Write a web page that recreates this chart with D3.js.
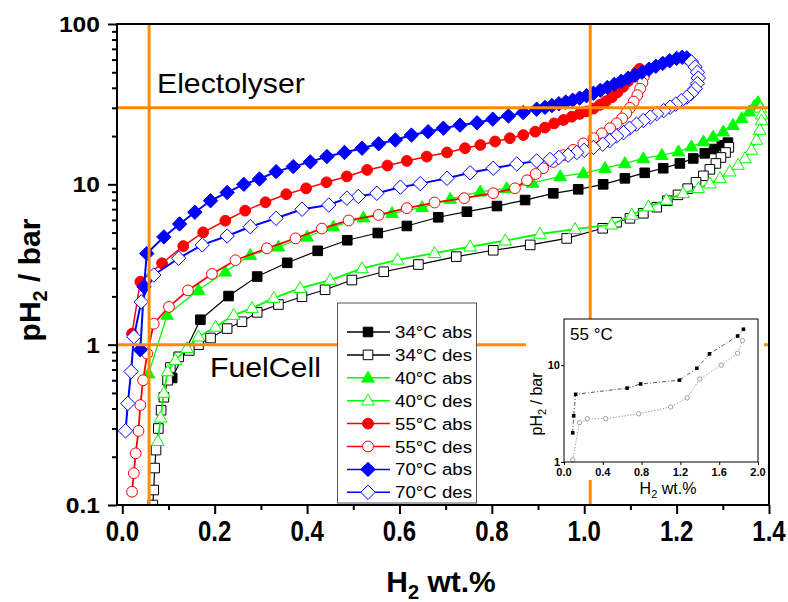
<!DOCTYPE html>
<html><head><meta charset="utf-8">
<script src="https://cdn.jsdelivr.net/npm/d3@7"></script>
<style>
html,body{margin:0;padding:0;background:#fff;}
svg{display:block;}
text{font-family:"Liberation Sans",Arial,Helvetica,sans-serif;fill:#000;}
</style></head><body>
<svg id="chart" width="788" height="602"></svg>
<script>
// ---------------- DATA ----------------
const abs34 = [[0.108,0.62],[0.169,1.43],[0.230,2.01],[0.292,2.66],[0.357,3.24],[0.423,3.85],[0.487,4.48],[0.553,4.97],[0.616,5.5],[0.684,6.23],[0.746,6.75],[0.811,7.32],[0.872,7.98],[0.933,8.79],[0.987,9.31],[1.041,10.0],[1.088,10.9],[1.131,11.8],[1.171,12.6],[1.207,13.5],[1.236,14.5],[1.261,15.6],[1.281,16.6],[1.298,17.5],[1.311,18.2]];
const des34 = [[1.313,17.0],[1.306,15.8],[1.296,14.7],[1.285,13.5],[1.272,12.4],[1.258,11.3],[1.242,10.3],[1.224,9.4],[1.203,8.6],[1.180,7.9],[1.157,7.2],[1.128,6.6],[1.099,6.14],[1.070,5.8],[1.040,5.32],[0.962,4.6],[0.883,4.19],[0.803,3.88],[0.723,3.54],[0.641,3.16],[0.566,2.85],[0.497,2.53],[0.439,2.2],[0.389,1.99],[0.338,1.78],[0.292,1.59],[0.259,1.39],[0.227,1.26],[0.191,1.1],[0.165,1.0],[0.145,0.92],[0.122,0.84],[0.104,0.72],[0.098,0.6],[0.090,0.47],[0.084,0.39],[0.078,0.30],[0.073,0.22],[0.070,0.17],[0.068,0.124],[0.066,0.10]];
const abs40 = [[0.057,0.66],[0.097,1.53],[0.165,2.19],[0.223,2.85],[0.277,3.62],[0.338,4.08],[0.400,4.71],[0.457,5.45],[0.522,6.2],[0.584,6.6],[0.649,7.19],[0.710,8.1],[0.775,9.0],[0.832,9.45],[0.888,10.2],[0.948,11.2],[0.998,11.7],[1.045,12.6],[1.088,13.5],[1.128,14.5],[1.168,15.2],[1.204,16.0],[1.232,17.2],[1.258,18.5],[1.279,19.8],[1.301,21.3],[1.322,23.4],[1.341,25.8],[1.357,28.4],[1.368,30.8],[1.376,32.5]];
const des40 = [[1.381,30.0],[1.384,27.2],[1.384,25.0],[1.380,21.8],[1.373,18.9],[1.362,16.4],[1.348,14.5],[1.333,13.2],[1.315,12.0],[1.294,10.9],[1.272,10.1],[1.247,9.45],[1.214,8.79],[1.178,7.98],[1.139,7.26],[1.103,6.44],[1.059,5.6],[0.980,5.25],[0.904,4.9],[0.829,4.45],[0.753,4.08],[0.676,3.72],[0.596,3.38],[0.519,2.99],[0.450,2.53],[0.385,2.25],[0.328,1.95],[0.281,1.69],[0.241,1.53],[0.202,1.29],[0.165,1.12],[0.140,0.95],[0.115,0.80],[0.098,0.68],[0.090,0.50],[0.083,0.35],[0.077,0.25]];
const abs55 = [[0.021,1.17],[0.039,2.47],[0.086,3.22],[0.132,4.12],[0.175,5.02],[0.223,5.93],[0.266,6.85],[0.310,7.73],[0.355,8.67],[0.398,9.44],[0.442,10.3],[0.486,11.2],[0.530,12.3],[0.574,13.1],[0.616,14.0],[0.659,14.9],[0.703,15.8],[0.742,16.8],[0.775,17.6],[0.807,18.5],[0.839,19.4],[0.868,20.3],[0.894,21.3],[0.915,22.6],[0.935,24.0],[0.955,25.2],[0.973,26.4],[0.990,27.5],[1.005,28.5],[1.020,29.7],[1.034,31.3],[1.047,33.0],[1.060,35.0],[1.072,37.5],[1.084,40.5],[1.095,44.0],[1.105,47.0],[1.113,50.0],[1.120,52.5]];
const des55 = [[1.126,51.0],[1.129,46.9],[1.126,43.0],[1.121,39.5],[1.115,36.0],[1.107,32.8],[1.099,30.0],[1.091,27.8],[1.082,25.8],[1.070,24.0],[1.056,22.4],[1.038,20.8],[1.020,19.4],[0.998,18.0],[0.976,16.4],[0.955,15.2],[0.933,13.8],[0.911,12.6],[0.895,11.6],[0.876,10.6],[0.850,9.45],[0.803,8.8],[0.740,8.2],[0.676,7.7],[0.616,7.1],[0.555,6.44],[0.490,5.95],[0.432,5.3],[0.375,4.6],[0.313,3.99],[0.245,3.36],[0.194,2.76],[0.142,2.18],[0.101,1.72],[0.068,1.35],[0.054,0.88],[0.045,0.6],[0.039,0.42],[0.035,0.29],[0.029,0.21],[0.025,0.158],[0.021,0.121]];
const abs70 = [[0.039,0.93],[0.047,2.3],[0.053,3.7],[0.090,4.7],[0.124,5.66],[0.157,6.7],[0.191,7.9],[0.227,8.9],[0.263,10.0],[0.297,10.8],[0.333,12.0],[0.370,12.9],[0.407,13.8],[0.443,14.9],[0.481,15.8],[0.519,16.8],[0.555,17.9],[0.591,18.9],[0.626,20.3],[0.662,21.3],[0.695,22.4],[0.731,23.4],[0.768,24.2],[0.802,25.5],[0.836,26.7],[0.868,28.0],[0.897,29.4],[0.915,30.2],[0.930,31.0],[0.945,31.8],[0.960,32.6],[0.975,33.5],[0.990,34.5],[1.005,35.7],[1.020,37.0],[1.035,38.6],[1.050,40.2],[1.065,42.0],[1.080,43.9],[1.095,45.9],[1.110,47.9],[1.125,50.0],[1.140,52.2],[1.155,54.5],[1.170,56.8],[1.185,59.0],[1.200,61.0],[1.212,62.0],[1.222,61.5]];
const des70 = [[1.232,58.0],[1.240,54.0],[1.245,50.0],[1.247,46.0],[1.245,42.5],[1.240,39.5],[1.232,37.0],[1.222,35.0],[1.210,33.2],[1.198,31.6],[1.186,30.3],[1.172,28.8],[1.157,27.6],[1.143,26.3],[1.128,25.0],[1.113,23.7],[1.098,22.4],[1.085,21.0],[1.070,20.0],[1.055,18.7],[1.040,17.8],[1.020,17.0],[1.000,16.3],[0.984,15.8],[0.965,15.2],[0.945,14.7],[0.926,14.3],[0.897,14.0],[0.854,13.4],[0.803,12.6],[0.753,11.8],[0.703,10.9],[0.645,10.1],[0.602,9.6],[0.551,8.8],[0.511,8.4],[0.486,8.2],[0.447,7.43],[0.389,6.99],[0.333,6.14],[0.277,5.44],[0.227,4.76],[0.173,4.19],[0.122,3.46],[0.068,2.72],[0.041,1.85],[0.025,1.12],[0.019,0.68],[0.012,0.43],[0.007,0.29]];

const insetAbs = [[0.09,2.0],[0.10,3.0],[0.12,5.0],[0.65,5.8],[0.79,6.4],[1.19,7.0],[1.37,9.3],[1.50,13.1],[1.79,20.0],[1.85,23.5]];
const insetDes = [[0.09,1.05],[0.16,2.55],[0.24,2.8],[0.43,2.8],[0.77,3.15],[1.10,3.7],[1.27,4.6],[1.40,7.2],[1.62,10.0],[1.79,13.3],[1.84,18.0]];

const xTickValues = [0,0.2,0.4,0.6,0.8,1.0,1.2,1.4];
const xMinorValues = [0.1,0.3,0.5,0.7,0.9,1.1,1.3];
const yTickValues = [0.1,1,10,100];
const yTickLabels = ["0.1","1","10","100"];
const insetXTicks = [0,0.4,0.8,1.2,1.6,2.0];
const insetYTicks = [1,10];
const legendLabels = ["34°C abs","34°C des","40°C abs","40°C des","55°C abs","55°C des","70°C abs","70°C des"];
const refX = [0.058, 1.013];
const refY = [30, 1];

// ---------------- STYLE ----------------
const series = [
  {data:abs34, color:"#000000", shape:"square",   filled:true,  lw:1.2},
  {data:des34, color:"#000000", shape:"square",   filled:false, lw:1.2},
  {data:abs40, color:"#00ff00", shape:"triangle", filled:true,  lw:1.3},
  {data:des40, color:"#00ff00", shape:"triangle", filled:false, lw:1.8},
  {data:abs55, color:"#ff0000", shape:"circle",   filled:true,  lw:1.5},
  {data:des55, color:"#ff0000", shape:"circle",   filled:false, lw:1.8},
  {data:abs70, color:"#0000ff", shape:"diamond",  filled:true,  lw:2},
  {data:des70, color:"#0000ff", shape:"diamond",  filled:false, lw:2}
];
const ORANGE = "#ff8c00";
const L = 117, R = 769, T = 24, B = 505;

const svg = d3.select("#chart");
const x = d3.scaleLinear().domain([-0.0115, 1.4]).range([L, R]);
const y = d3.scaleLog().domain([0.1, 100]).range([B, T]);

function shapePath(shape){
  switch(shape){
    case "square": return "M-4.8,-4.8H4.8V4.8H-4.8Z";
    case "triangle": return "M0,-6.6L6.3,4.3L-6.3,4.3Z";
    case "diamond": return "M0,-7.2L7.2,0L0,7.2L-7.2,0Z";
    default: return d3.symbol(d3.symbolCircle, Math.PI*5.4*5.4)();
  }
}

// clip
svg.append("defs").append("clipPath").attr("id","plotclip")
  .append("rect").attr("x",L).attr("y",T).attr("width",R-L).attr("height",B-T);

const plot = svg.append("g").attr("clip-path","url(#plotclip)");
const line = d3.line().x(d=>x(d[0])).y(d=>y(d[1]));

series.forEach(s=>{
  const g = plot.append("g");
  g.append("path").attr("d", line(s.data)).attr("fill","none")
    .attr("stroke", s.color).attr("stroke-width", s.lw).attr("stroke-linejoin","round");
  g.selectAll("path.m").data(s.data).enter().append("path").attr("class","m")
    .attr("d", shapePath(s.shape))
    .attr("transform", d=>`translate(${x(d[0])},${y(d[1])})`)
    .attr("fill", s.filled ? s.color : "#fff")
    .attr("stroke", s.color).attr("stroke-width", 1);
});

// reference lines
refX.forEach(v=>{
  svg.append("line").attr("x1",x(v)).attr("x2",x(v)).attr("y1",T).attr("y2",B)
    .attr("stroke",ORANGE).attr("stroke-width",3);
});
refY.forEach(v=>{
  svg.append("line").attr("x1",L).attr("x2",R).attr("y1",y(v)).attr("y2",y(v))
    .attr("stroke",ORANGE).attr("stroke-width",3);
});
svg.append("text").attr("transform","translate(157,93) scale(1.08,1)")
  .attr("font-size",28).text("Electolyser");
svg.append("text").attr("transform","translate(210,377) scale(1.08,1)")
  .attr("font-size",28).text("FuelCell");

// axes
const xAxis = svg.append("g").attr("transform",`translate(0,${B})`)
  .call(d3.axisBottom(x).tickValues(xTickValues).tickSize(9).tickFormat(""));
const xMinor = svg.append("g").attr("transform",`translate(0,${B})`)
  .call(d3.axisBottom(x).tickValues(xMinorValues).tickSize(5).tickFormat(""));
const yMinorVals = [];
[0.1,1,10].forEach(d=>{ for(let k=2;k<=9;k++) yMinorVals.push(d*k); });
const yAxis = svg.append("g").attr("transform",`translate(${L},0)`)
  .call(d3.axisLeft(y).tickValues(yTickValues).tickSize(9).tickFormat(""));
const yMinor = svg.append("g").attr("transform",`translate(${L},0)`)
  .call(d3.axisLeft(y).tickValues(yMinorVals).tickSize(5).tickFormat(""));
[xAxis,xMinor,yAxis,yMinor].forEach(a=>{
  a.select(".domain").remove();
  a.selectAll(".tick line").attr("stroke","#000").attr("stroke-width",2);
});
svg.append("rect").attr("x",L).attr("y",T).attr("width",R-L).attr("height",B-T)
  .attr("fill","none").attr("stroke","#000").attr("stroke-width",2);

xTickValues.forEach(v=>{
  svg.append("text").attr("transform",`translate(${x(v)},540.5) scale(1,1.2)`)
    .attr("text-anchor","middle").attr("font-size",24).attr("font-weight","bold")
    .text(d3.format(".1f")(v));
});
yTickValues.forEach((v,i)=>{
  svg.append("text").attr("transform",`translate(100,${y(v)+7.9}) scale(1.12,1)`)
    .attr("text-anchor","end").attr("font-size",22).attr("font-weight","bold")
    .text(yTickLabels[i]);
});

// axis titles
const xt = svg.append("text").attr("x",441).attr("y",592).attr("text-anchor","middle")
  .attr("font-size",30).attr("font-weight","bold");
xt.append("tspan").text("H");
xt.append("tspan").attr("font-size",20).attr("dy",7).text("2");
xt.append("tspan").attr("dy",-7).text(" wt.%");

const yt = svg.append("text").attr("transform","translate(40,280) rotate(-90)")
  .attr("text-anchor","middle").attr("font-size",30).attr("font-weight","bold");
yt.append("tspan").text("pH");
yt.append("tspan").attr("font-size",20).attr("dy",7).text("2");
yt.append("tspan").attr("dy",-7).text(" / bar");

// legend
const lg = svg.append("g");
lg.append("rect").attr("x",337.5).attr("y",303).attr("width",139).attr("height",200)
  .attr("fill","#fff").attr("stroke","#555").attr("stroke-width",1);
series.forEach((s,i)=>{
  const cy = 332 + i*22.9;
  lg.append("line").attr("x1",347).attr("x2",390).attr("y1",cy).attr("y2",cy)
    .attr("stroke",s.color).attr("stroke-width",1.5);
  lg.append("path").attr("d",shapePath(s.shape)).attr("transform",`translate(368,${cy})`)
    .attr("fill", s.filled ? s.color : "#fff").attr("stroke",s.color).attr("stroke-width",1);
  lg.append("text").attr("transform",`translate(395,${cy+6}) scale(1.1,1)`)
    .attr("font-size",17).text(legendLabels[i]);
});

// inset
const ix = d3.scaleLinear().domain([0,2]).range([564,758]);
const iy = d3.scaleLog().domain([1,30]).range([462,319]);
const ins = svg.append("g");
ins.append("rect").attr("x",526).attr("y",319).attr("width",238).attr("height",161).attr("fill","#fff");
const iline = d3.line().x(d=>ix(d[0])).y(d=>iy(d[1]));
ins.append("path").attr("d",iline(insetDes)).attr("fill","none").attr("stroke","#999")
  .attr("stroke-width",0.9).attr("stroke-dasharray","1.5,1.5");
ins.append("path").attr("d",iline(insetAbs)).attr("fill","none").attr("stroke","#444")
  .attr("stroke-width",0.9).attr("stroke-dasharray","4,2,1,2");
ins.selectAll("circle.d").data(insetDes).enter().append("circle").attr("class","d")
  .attr("cx",d=>ix(d[0])).attr("cy",d=>iy(d[1])).attr("r",2.2)
  .attr("fill","#fff").attr("stroke","#888").attr("stroke-width",0.8);
ins.selectAll("rect.a").data(insetAbs).enter().append("rect").attr("class","a")
  .attr("x",d=>ix(d[0])-1.8).attr("y",d=>iy(d[1])-1.8).attr("width",3.6).attr("height",3.6)
  .attr("fill","#000");
const ixa = ins.append("g").attr("transform","translate(0,462)")
  .call(d3.axisBottom(ix).tickValues(insetXTicks).tickSize(3).tickFormat(""));
const iya = ins.append("g").attr("transform","translate(564,0)")
  .call(d3.axisLeft(iy).tickValues(insetYTicks).tickSize(3).tickFormat(""));
[ixa,iya].forEach(a=>{ a.select(".domain").remove(); a.selectAll(".tick line").attr("stroke","#000"); });
ins.append("rect").attr("x",564).attr("y",319).attr("width",194).attr("height",143)
  .attr("fill","none").attr("stroke","#000").attr("stroke-width",1);
insetXTicks.forEach(v=>{
  ins.append("text").attr("x",ix(v)).attr("y",476).attr("text-anchor","middle")
    .attr("font-size",11).attr("font-weight","bold").text(d3.format(".1f")(v));
});
insetYTicks.forEach(v=>{
  ins.append("text").attr("x",560).attr("y",iy(v)+4).attr("text-anchor","end")
    .attr("font-size",11).attr("font-weight","bold").text(v);
});
const ixt = ins.append("text").attr("x",668).attr("y",494).attr("text-anchor","middle").attr("font-size",16);
ixt.append("tspan").text("H");
ixt.append("tspan").attr("font-size",11).attr("dy",4).text("2");
ixt.append("tspan").attr("dy",-4).text(" wt.%");
const iyt = ins.append("text").attr("transform","translate(542,404) rotate(-90)")
  .attr("text-anchor","middle").attr("font-size",16);
iyt.append("tspan").text("pH");
iyt.append("tspan").attr("font-size",11).attr("dy",4).text("2");
iyt.append("tspan").attr("dy",-4).text(" / bar");
ins.append("text").attr("x",570).attr("y",340).attr("font-size",17).text("55 °C");
</script>
</body></html>
